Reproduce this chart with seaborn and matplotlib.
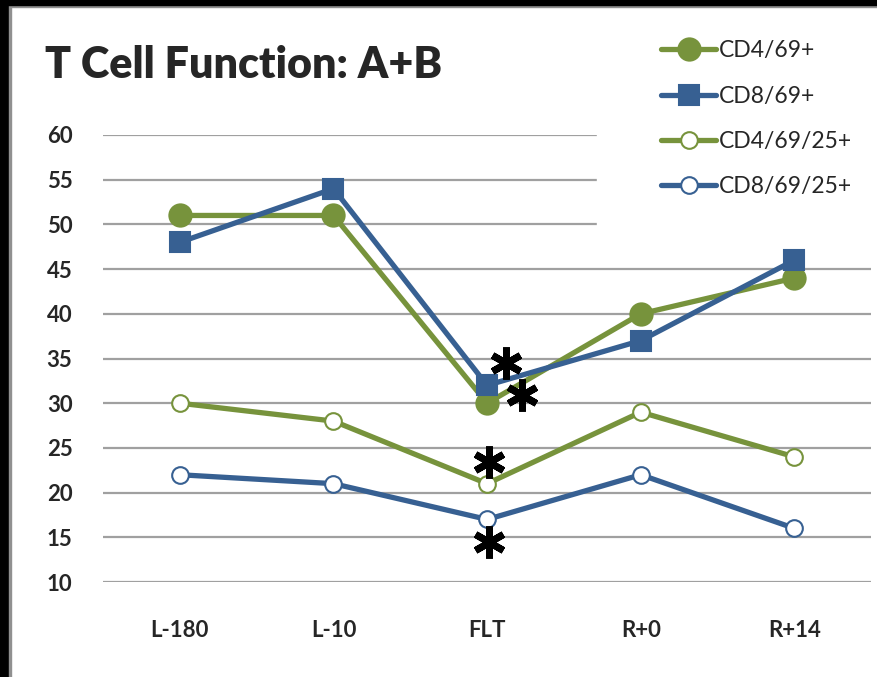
import numpy as np
import pandas as pd
import matplotlib.pyplot as plt
import seaborn as sns
from matplotlib.patches import Rectangle

# %% data

timepoints = ["L-180", "L-10", "FLT", "R+0", "R+14"]
cd4_69 = [51, 51, 30, 40, 44]
cd8_69 = [48, 54, 32, 37, 46]
cd4_69_25 = [30, 28, 21, 29, 24]
cd8_69_25 = [22, 21, 17, 22, 16]

# significance stars (category position, value)
star_x = [2.12, 2.23, 2.01, 2.01]
star_y = [34.5, 30.9, 23.4, 14.5]

green = "#77933C"
blue = "#376092"

series = [
    ("CD4/69+", cd4_69, green, "o", 16, green),
    ("CD8/69+", cd8_69, blue, "s", 14, blue),
    ("CD4/69/25+", cd4_69_25, green, "o", 12, "white"),
    ("CD8/69/25+", cd8_69_25, blue, "o", 12, "white"),
]

# %% plot

sns.set_style("white")
plt.rcParams["font.family"] = ["Lato", "DejaVu Sans"]

fig = plt.figure(figsize=(8.78, 6.77), dpi=100)
ax = fig.add_axes([0.1173, 0.1403, 0.875, 0.6603])

xpos = np.arange(len(timepoints))
for name, vals, col, mk, ms, fc in series:
    df = pd.DataFrame({"t": xpos, "v": vals})
    sns.lineplot(data=df, x="t", y="v", ax=ax, color=col, linewidth=3.8,
                 marker=mk, markersize=ms, markerfacecolor=fc,
                 markeredgecolor=col, markeredgewidth=1.5, label=name,
                 clip_on=False)

# stars as 6-armed asterisk markers
ax.plot(star_x, star_y, linestyle="none", marker=(6, 2, 0), markersize=23,
        markeredgewidth=5, color="black", zorder=5)

ax.set_xlim(-0.5, 4.5)
ax.set_ylim(10, 60)
ax.set_yticks(np.arange(10, 61, 5))
ax.set_xticks(xpos)
ax.set_xticklabels(timepoints)
ax.yaxis.grid(True, color="#A0A0A0", linewidth=1.6)
ax.set_axisbelow(True)
for s in ax.spines.values():
    s.set_visible(False)
ax.tick_params(axis="y", length=0, pad=22, labelsize=16)
ax.tick_params(axis="x", length=0, pad=27, labelsize=16)
for lab in ax.get_xticklabels() + ax.get_yticklabels():
    lab.set_fontweight("bold")
ax.set_xlabel("")
ax.set_ylabel("")

leg = ax.legend(loc="upper left", bbox_to_anchor=(0.643, 1.355), frameon=True,
                fontsize=16.5, handlelength=2.4, labelspacing=1.05,
                handletextpad=0.13, borderpad=2.8, borderaxespad=0,
                fancybox=False)
leg.get_frame().set_facecolor("white")
leg.get_frame().set_edgecolor("white")
leg.get_frame().set_alpha(1)
# above the grid, below the data lines
leg.set_zorder(1.5)

fig.text(45 / 878, 1 - 78 / 677, "T Cell Function: A+B", fontsize=31,
         fontweight="heavy", ha="left", va="baseline")

# frame of the slide
fig.patches.append(Rectangle((0, 0), 9 / 878, 1, transform=fig.transFigure,
                             color="black", zorder=10))
fig.patches.append(Rectangle((9 / 878, 0), 2 / 878, 1, transform=fig.transFigure,
                             color="#909090", zorder=10))
fig.patches.append(Rectangle((0, 1 - 5 / 677), 1, 5 / 677, transform=fig.transFigure,
                             color="black", zorder=10))
fig.patches.append(Rectangle((0, 1 - 7 / 677), 1, 2 / 677, transform=fig.transFigure,
                             color="#909090", zorder=9))

fig.savefig("out.png", dpi=100)
